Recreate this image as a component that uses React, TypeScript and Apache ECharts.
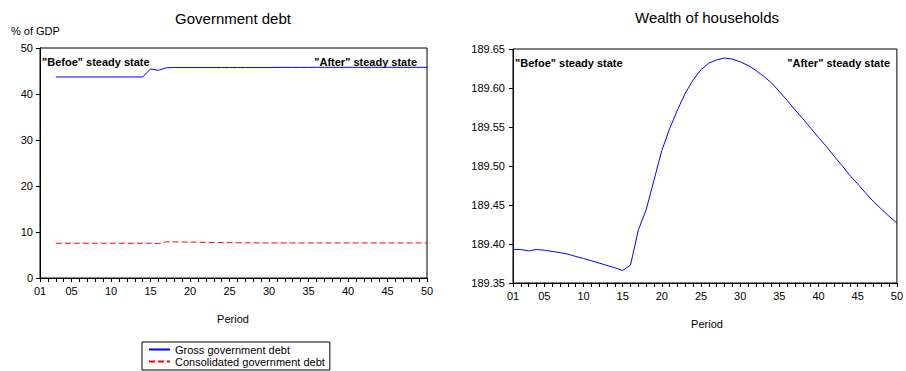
import React, { useEffect, useRef } from "react";
import * as echarts from "echarts";

const periods: string[] = Array.from({ length: 50 }, (_, i) => String(i + 1).padStart(2, "0"));

const grossDebt: (number | null)[] = [
  null, null, 43.7, 43.7, 43.7, 43.7, 43.7, 43.7, 43.7, 43.7,
  43.7, 43.7, 43.7, 43.7, 45.45, 45.15, 45.7, 45.75, 45.75, 45.75,
  45.75, 45.75, 45.75, 45.75, 45.75, 45.75, 45.75, 45.75, 45.75, 45.75,
  45.78, 45.78, 45.78, 45.78, 45.78, 45.8, 45.8, 45.8, 45.8, 45.8,
  45.8, 45.8, 45.8, 45.8, 45.8, 45.8, 45.8, 45.8, 45.8, 45.8,
];

const consolidatedDebt: (number | null)[] = [
  null, null, 7.55, 7.55, 7.55, 7.55, 7.55, 7.55, 7.55, 7.55,
  7.55, 7.55, 7.55, 7.55, 7.55, 7.5, 7.85, 7.85, 7.82, 7.8,
  7.78, 7.75, 7.72, 7.7, 7.68, 7.66, 7.65, 7.64, 7.63, 7.62,
  7.62, 7.62, 7.62, 7.62, 7.62, 7.62, 7.62, 7.62, 7.62, 7.62,
  7.62, 7.62, 7.62, 7.62, 7.62, 7.62, 7.62, 7.62, 7.62, 7.62,
];

const householdWealth: number[] = [
  189.393, 189.393, 189.391, 189.393, 189.392, 189.3905, 189.389, 189.387, 189.384, 189.3815,
  189.3785, 189.3755, 189.3725, 189.3695, 189.366, 189.373, 189.418, 189.444, 189.482, 189.52,
  189.548, 189.572, 189.5935, 189.6105, 189.6235, 189.632, 189.636, 189.6385, 189.637, 189.6335,
  189.629, 189.6225, 189.615, 189.6065, 189.5955, 189.584, 189.572, 189.5605, 189.5485, 189.5365,
  189.525, 189.5125, 189.5005, 189.488, 189.477, 189.4655, 189.4545, 189.445, 189.4355, 189.427,
];

const legendNames: string[] = ["Gross government debt", "Consolidated government debt"];

const FONT = "'Liberation Sans', Arial, Helvetica, sans-serif";
const BLUE = "#0000ff";
const RED = "#ff0000";

function xAxisFor(gridIndex: number, margin: number) {
  return {
    type: "category" as const,
    gridIndex,
    data: periods,
    boundaryGap: false,
    axisLine: { show: true, lineStyle: { color: "#000", width: 1 } },
    axisTick: { show: true, interval: 0, length: 4, lineStyle: { color: "#000" } },
    axisLabel: {
      interval: (index: number) => index === 0 || (index + 1) % 5 === 0,
      color: "#000",
      fontSize: 11,
      fontFamily: FONT,
      margin,
      showMinLabel: true,
      showMaxLabel: true,
    },
    splitLine: { show: false },
  };
}

export default function App() {
  const ref = useRef<HTMLDivElement>(null);

  useEffect(() => {
    if (!ref.current) return;
    const chart = echarts.init(ref.current, undefined, { renderer: "svg" });

    const txt = (x: number, y: number, text: string, size: number, align: string, bold = false) => ({
      type: "text",
      x,
      y,
      silent: true,
      style: {
        text,
        fill: "#000",
        fontSize: size,
        fontFamily: FONT,
        fontWeight: bold ? "bold" : "normal",
        align,
        verticalAlign: "middle",
      },
    });

    chart.setOption({
      animation: false,
      backgroundColor: "#fff",
      grid: [
        { left: 40, top: 48, width: 387, height: 230, show: true, borderColor: "#000", borderWidth: 1, backgroundColor: "transparent" },
        { left: 513, top: 49, width: 387, height: 234, show: true, borderColor: "#000", borderWidth: 1, backgroundColor: "transparent" },
      ],
      xAxis: [xAxisFor(0, 7), xAxisFor(1, 7)],
      yAxis: [
        {
          type: "value",
          gridIndex: 0,
          min: 0,
          max: 50,
          interval: 10,
          axisLine: { show: true, lineStyle: { color: "#000" } },
          axisTick: { show: true, length: 4, lineStyle: { color: "#000" } },
          axisLabel: { color: "#000", fontSize: 11, fontFamily: FONT, margin: 7 },
          splitLine: { show: false },
        },
        {
          type: "value",
          gridIndex: 1,
          min: 189.35,
          max: 189.65,
          interval: 0.05,
          axisLine: { show: true, lineStyle: { color: "#000" } },
          axisTick: { show: true, length: 4, lineStyle: { color: "#000" } },
          axisLabel: {
            color: "#000",
            fontSize: 11,
            fontFamily: FONT,
            margin: 8,
            formatter: (v: number) => v.toFixed(2),
          },
          splitLine: { show: false },
        },
      ],
      legend: {
        data: legendNames,
        orient: "vertical",
        left: 142,
        top: 342,
        width: 172,
        height: 60,
        padding: [2, 5, 3, 6],
        itemWidth: 21,
        itemHeight: 10,
        itemGap: 1,
        borderColor: "#000",
        borderWidth: 1,
        itemStyle: { opacity: 0 },
        textStyle: { color: "#000", fontSize: 11, fontFamily: FONT },
        selectedMode: false,
      },
      series: [
        {
          name: legendNames[0],
          type: "line",
          xAxisIndex: 0,
          yAxisIndex: 0,
          data: grossDebt,
          symbol: "none",
          lineStyle: { color: BLUE, width: 1 },
          itemStyle: { color: BLUE },
        },
        {
          name: legendNames[1],
          type: "line",
          xAxisIndex: 0,
          yAxisIndex: 0,
          data: consolidatedDebt,
          symbol: "none",
          lineStyle: { color: RED, width: 1, type: [6, 3] },
          itemStyle: { color: RED },
        },
        {
          name: "Wealth of households",
          type: "line",
          xAxisIndex: 1,
          yAxisIndex: 1,
          data: householdWealth,
          symbol: "none",
          lineStyle: { color: BLUE, width: 1 },
          itemStyle: { color: BLUE },
        },
      ],
      graphic: [
        txt(233, 18, "Government debt", 15, "center"),
        txt(11, 31, "% of GDP", 11, "left"),
        txt(42, 62, "\"Befoe\" steady state", 11, "left", true),
        txt(417, 62, "\"After\" steady state", 11, "right", true),
        txt(233, 319, "Period", 11, "center"),
        txt(707, 17, "Wealth of households", 15, "center"),
        txt(515, 63, "\"Befoe\" steady state", 11, "left", true),
        txt(890, 63, "\"After\" steady state", 11, "right", true),
        txt(707, 324, "Period", 11, "center"),
      ],
    });

    return () => chart.dispose();
  }, []);

  return (
    <div
      ref={ref}
      style={{ position: "absolute", left: 0, top: 0, width: 906, height: 371, background: "#fff" }}
    />
  );
}
